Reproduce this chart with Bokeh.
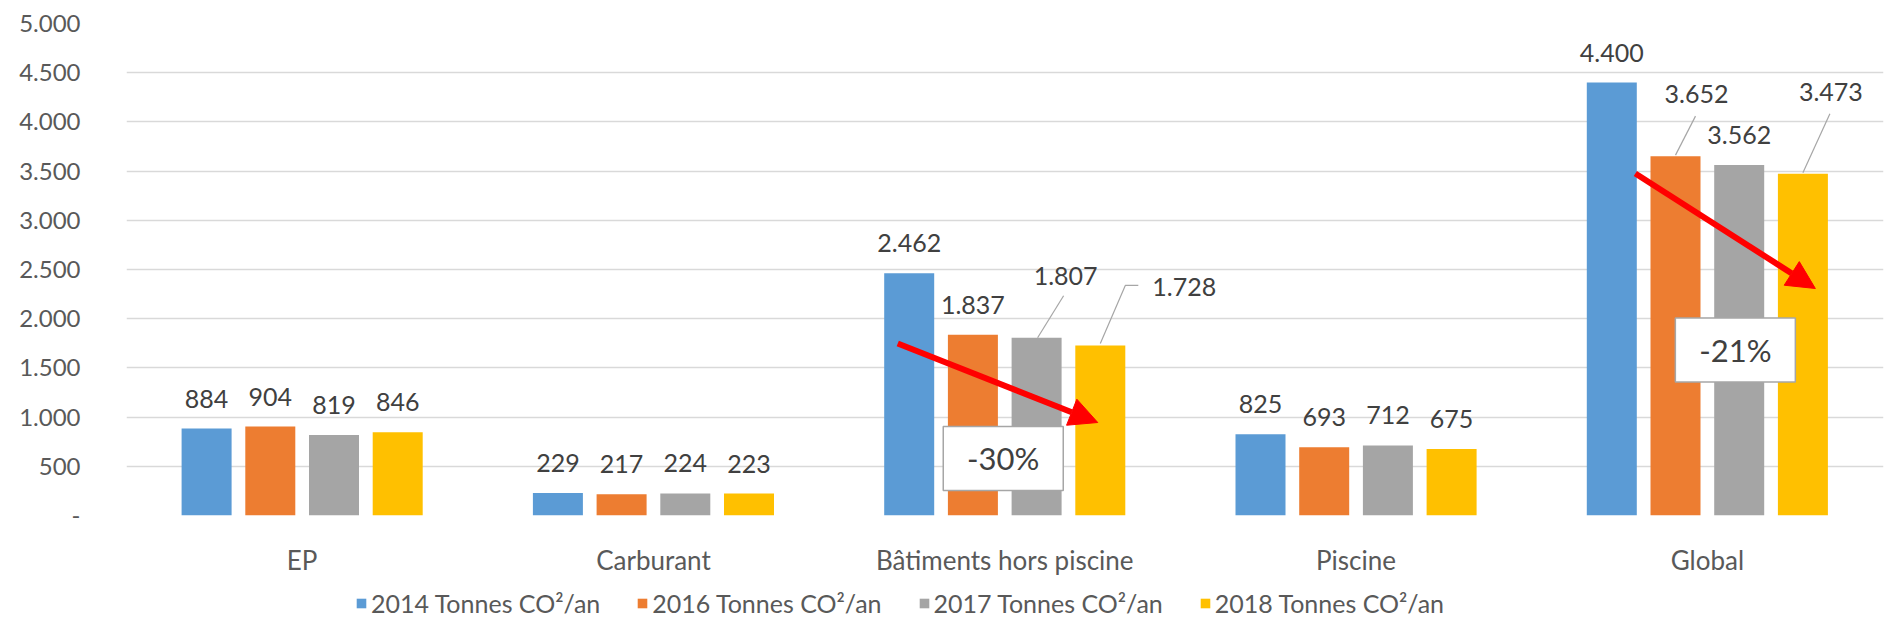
from bokeh.plotting import figure
from bokeh.layouts import column
from bokeh.models import (Range1d, FixedTicker, ColumnDataSource, Legend, LegendItem,
                          Arrow, NormalHead)
from bokeh.embed import file_html
from bokeh.resources import INLINE
from bokeh.core.properties import value

# ---------------- data ----------------
categories = ["EP", "Carburant", "Bâtiments hors piscine", "Piscine", "Global"]
series_names = ["2014 Tonnes CO²/an", "2016 Tonnes CO²/an", "2017 Tonnes CO²/an", "2018 Tonnes CO²/an"]
v2014 = [884, 229, 2462, 825, 4400]
v2016 = [904, 217, 1837, 693, 3652]
v2017 = [819, 224, 1807, 712, 3562]
v2018 = [846, 223, 1728, 675, 3473]
y_ticks = [0, 500, 1000, 1500, 2000, 2500, 3000, 3500, 4000, 4500, 5000]
series_values = [v2014, v2016, v2017, v2018]

# ---------------- styles / geometry ----------------
colors = ["#5B9BD5", "#ED7D31", "#A5A5A5", "#FFC000"]
FONT = "Lato"
W = 1885
LEG_H = 45
H = 631 - LEG_H
B_LEFT, B_RIGHT, B_TOP, B_BOTTOM = 126, 2, 23, H - 515
FRAME_W = W - B_LEFT - B_RIGHT
FRAME_H = H - B_TOP - B_BOTTOM
PX_CAT = 351.3
X_END = FRAME_W / PX_CAT
Y_MAX = 5000
PX_Y = FRAME_H / Y_MAX
BAR_STEP = 63.7 / PX_CAT
BAR_W = 50 / PX_CAT
offsets = [(i - 1.5) * BAR_STEP for i in range(4)]

# label offsets (px) for labels Excel moved (category index, series index): (dx, dy)
label_moves = {(2, 2): (29, -62), (2, 3): (84, -58), (4, 1): (21, -62), (4, 3): (28, -82)}
# leader lines (px, relative to bar top centre)
leaders = {(2, 2): [(1, 0), (27, -42)],
           (2, 3): [(0, -2), (25, -60), (38, -60)],
           (4, 1): [(0, -1), (20, -40)],
           (4, 3): [(0, -1), (27, -60)]}
# annotation arrows & boxes: category index, px offsets / values
arrows = [dict(cat=2, x0=-107, y0=1748, x1=93, y1=945),
          dict(cat=4, x0=-72, y0=3476, x1=108, y1=2307)]
boxes = [dict(cat=2, dx=-1.5, y=580), dict(cat=4, dx=28, y=1682)]

def fmt(v):
    return f"{v:,}".replace(",", ".")

p = figure(width=W, height=H, output_backend="svg", toolbar_location=None,
           x_range=Range1d(0, X_END), y_range=Range1d(0, Y_MAX),
           min_border_left=B_LEFT, min_border_right=B_RIGHT,
           min_border_top=B_TOP, min_border_bottom=B_BOTTOM)
p.outline_line_color = None
p.background_fill_color = "white"
p.border_fill_color = "white"

# axes
p.xaxis.ticker = FixedTicker(ticks=[i + 0.5 for i in range(len(categories))])
p.xaxis.major_label_overrides = {i + 0.5: c for i, c in enumerate(categories)}
p.yaxis.ticker = FixedTicker(ticks=y_ticks)
p.yaxis.major_label_overrides = {t: (fmt(t) if t else "-") for t in y_ticks}
for ax in (p.xaxis[0], p.yaxis[0]):
    ax.axis_line_color = None
    ax.major_tick_line_color = None
    ax.minor_tick_line_color = None
    ax.major_tick_out = 0
    ax.major_tick_in = 0
    ax.major_label_text_font = FONT
    ax.major_label_text_color = "#595959"
p.yaxis.major_label_text_font_size = "24px"
p.xaxis.major_label_text_font_size = "26px"
p.xaxis.major_label_standoff = 28
p.yaxis.major_label_standoff = 46
p.xgrid.grid_line_color = None
p.ygrid.grid_line_color = "#D9D9D9"
p.ygrid.grid_line_width = 1.5

# bars
renderers = []
for s, vals in enumerate(series_values):
    xs = [j + 0.5 + offsets[s] for j in range(len(categories))]
    src = ColumnDataSource(dict(x=xs, top=vals))
    r = p.vbar(x="x", top="top", width=BAR_W, bottom=0, source=src,
               fill_color=colors[s], line_color=None)
    renderers.append(r)

# data labels
lx, ly, lt, lxo, lyo = [], [], [], [], []
for s, vals in enumerate(series_values):
    for j, v in enumerate(vals):
        dx, dy = label_moves.get((j, s), (0, -30))
        lx.append(j + 0.5 + offsets[s]); ly.append(v); lt.append(fmt(v))
        lxo.append(dx); lyo.append(dy)
p.text(x="x", y="y", text="t", x_offset="xo", y_offset="yo",
       source=ColumnDataSource(dict(x=lx, y=ly, t=lt, xo=lxo, yo=lyo)),
       text_align="center", text_baseline="middle", text_font=value(FONT),
       text_font_size="25px", text_color="#404040")

# leader lines
mxs, mys = [], []
for (j, s), pts in leaders.items():
    bx = j + 0.5 + offsets[s]
    by = series_values[s][j]
    mxs.append([bx + dx / PX_CAT for dx, dy in pts])
    mys.append([by - dy / PX_Y for dx, dy in pts])
p.multi_line(xs=mxs, ys=mys, line_color="#A6A6A6", line_width=1.2)

# arrows
for a in arrows:
    c = a["cat"] + 0.5
    p.add_layout(Arrow(x_start=c + a["x0"] / PX_CAT, y_start=a["y0"],
                       x_end=c + a["x1"] / PX_CAT, y_end=a["y1"],
                       line_color="#FF0000", line_width=6,
                       end=NormalHead(size=28, fill_color="#FF0000", line_color="#FF0000")))

# percentage boxes
bx, by, bt = [], [], []
for b in boxes:
    j = b["cat"]
    pct = round((v2018[j] - v2014[j]) / v2014[j] * 100)
    bx.append(j + 0.5 + b["dx"] / PX_CAT); by.append(b["y"]); bt.append(f"{pct}%")
bsrc = ColumnDataSource(dict(x=bx, y=by, t=bt))
p.rect(x="x", y="y", width=120, height=64, width_units="screen", height_units="screen",
       source=bsrc, fill_color="white", line_color="#A6A6A6", line_width=1.5)
p.text(x="x", y="y", text="t", source=bsrc, text_align="center", text_baseline="middle",
       text_font=value(FONT), text_font_size="31px", text_color="#404040")

# legend in a strip figure below the chart (proxy glyphs placed off-range)
lg = figure(width=W, height=LEG_H, output_backend="svg", toolbar_location=None,
            x_axis_location=None, y_axis_location=None,
            x_range=Range1d(0, 1), y_range=Range1d(0, 1),
            min_border_left=0, min_border_right=0, min_border_top=0, min_border_bottom=0)
lg.outline_line_color = None
lg.xgrid.grid_line_color = None
lg.ygrid.grid_line_color = None
leg_renderers = [lg.vbar(x=[-5], top=[-5], width=0.1, fill_color=c, line_color=None) for c in colors]
legend = Legend(items=[LegendItem(label=n, renderers=[r]) for n, r in zip(series_names, leg_renderers)],
                orientation="horizontal", location=(229, 13),
                label_text_font=FONT, label_text_font_size="25px", label_text_color="#595959",
                glyph_width=12, glyph_height=12, spacing=36, label_standoff=4,
                border_line_color=None, background_fill_alpha=0, margin=0, padding=0)
lg.add_layout(legend, "center")

open("out.html", "w").write(file_html(column(p, lg, spacing=0), INLINE))
